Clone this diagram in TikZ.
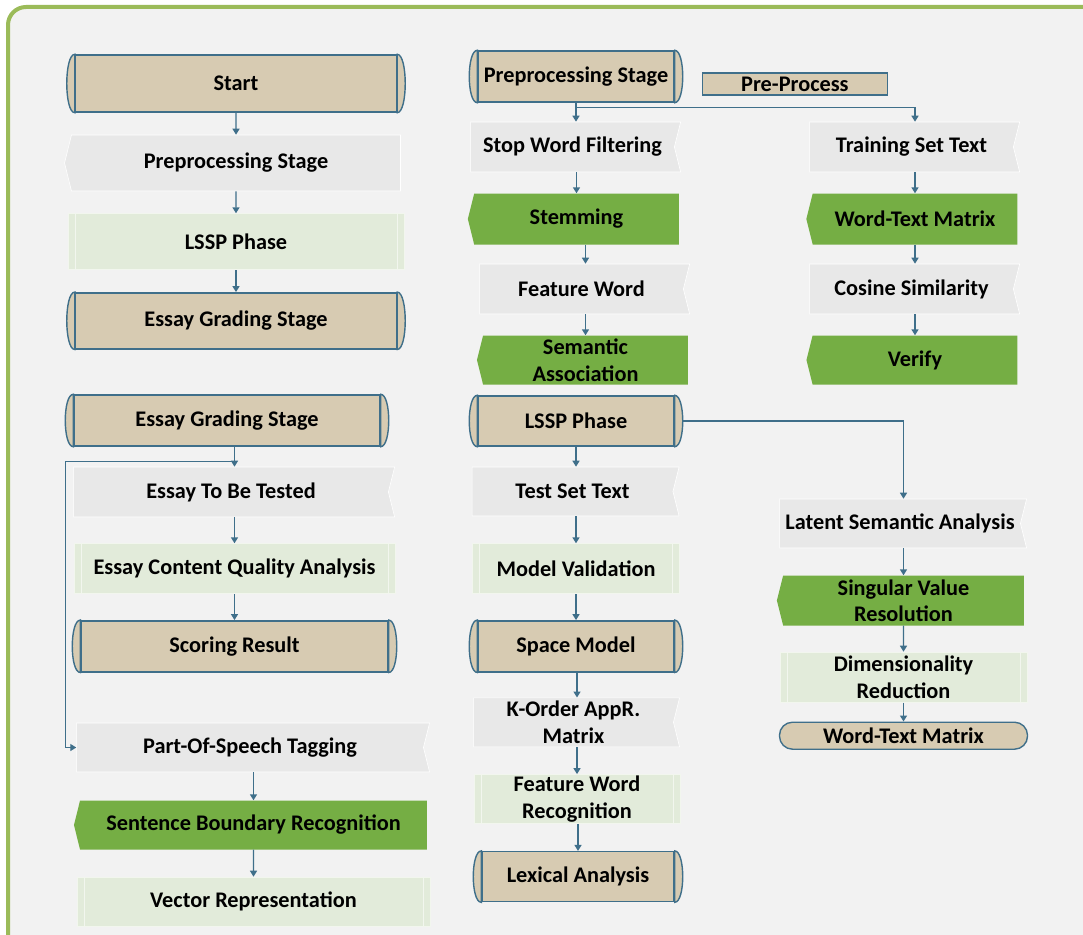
\documentclass[tikz,border=0pt]{standalone}
\usepackage{fontspec}
\setmainfont{Carlito}
\usetikzlibrary{arrows.meta}
\usetikzlibrary{positioning}
\usetikzlibrary{shapes.symbols}
\definecolor{framecol}{RGB}{155,187,89}
\definecolor{bgcol}{RGB}{242,242,242}
\definecolor{linecol}{RGB}{63,111,138}
\definecolor{tancol}{RGB}{215,203,178}
\definecolor{graycol}{RGB}{232,232,232}
\definecolor{greencol}{RGB}{117,174,68}
\definecolor{lightcol}{RGB}{226,235,218}

\begin{document}
\begin{tikzpicture}[
		x=1pt, y=-1pt,
		node distance=22pt,
		every node/.style={font=\bfseries\fontsize{22.3}{26.5}\selectfont, inner sep=0pt, align=center},
		arr/.style={draw=linecol, line width=1.4pt, -{Triangle[length=6pt,width=7pt]}},
		stage/.style={rectangle, draw=linecol, fill=tancol, line width=1.4pt,
			append after command={\pgfextra{
				\filldraw[fill=tancol, draw=linecol, line width=1.4pt] (\tikzlastnode.north west) .. controls +(-10.7pt,0) and +(-10.7pt,0) .. (\tikzlastnode.south west) -- cycle;
				\filldraw[fill=tancol, draw=linecol, line width=1.4pt] (\tikzlastnode.north east) .. controls +(10.7pt,0) and +(10.7pt,0) .. (\tikzlastnode.south east) -- cycle;
			}}},
		plainbox/.style={rectangle, draw=linecol, fill=tancol, line width=1.4pt},
		terminal/.style={rectangle, rounded corners=13pt, draw=linecol, fill=tancol, line width=1.4pt},
		graybox/.style={signal, signal from=east, signal to=nowhere, signal pointer angle=152, fill=graycol, draw=white, line width=0.6pt, xshift=-3.5pt},
		grayflag/.style={signal, signal to=west, signal pointer angle=152, fill=graycol, draw=white, line width=0.6pt},
		greenflag/.style={signal, signal to=west, signal pointer angle=152, fill=greencol},
		lightbox/.style={rectangle, fill=lightcol, draw=white!55!lightcol, line width=0.8pt,
			path picture={
				\draw[white!55!lightcol, line width=1pt] ([xshift=7pt]path picture bounding box.north west) -- ([xshift=7pt]path picture bounding box.south west)
					([xshift=-7pt]path picture bounding box.north east) -- ([xshift=-7pt]path picture bounding box.south east);
			}},
	]
		\useasboundingbox (0,0) rectangle (1083,934);
		\clip (0,0) rectangle (1083,934);
		\fill[white] (0,0) rectangle (1083,934);
		\filldraw[fill=bgcol, draw=framecol, line width=4pt, rounded corners=18pt] (8,7) rectangle (1120,970);

		\begin{scope}
			\node (start) [stage, minimum width=321pt, minimum height=57pt] at (236,83.5) {Start};
			\node (prep) [grayflag, minimum width=336pt, minimum height=56pt, below=22pt of start] {Preprocessing Stage};
			\node (lssp) [lightbox, minimum width=336pt, minimum height=56pt, below=22pt of prep] {LSSP Phase};
			\node (grading) [stage, minimum width=321pt, minimum height=56pt, below=22pt of lssp] {Essay Grading Stage};

			\draw[arr] (start) -- (prep);
			\draw[arr] (prep) -- (lssp);
			\draw[arr] (lssp) -- (grading);
		\end{scope}

		\begin{scope}
			\node (grading2) [stage, minimum width=306pt, minimum height=51pt] at (227,420.5) {Essay Grading Stage};
			\node (tested) [graybox, minimum width=321pt, minimum height=50pt, below=20pt of grading2, xshift=7.5pt] {Essay To Be Tested};
			\node (quality) [lightbox, minimum width=321pt, minimum height=50pt, below=26pt of tested, xshift=3.5pt] {Essay Content Quality Analysis};
			\node (scoring) [stage, minimum width=307pt, minimum height=51pt, below=26pt of quality] {Scoring Result};
			\node (pos) [graybox, minimum width=353pt, minimum height=49pt] at (253.5,747.5) {Part-Of-Speech Tagging};
			\node (boundary) [greenflag, minimum width=353pt, minimum height=49pt, below=28pt of pos, xshift=3.5pt] {Sentence Boundary Recognition};
			\node (vector) [lightbox, minimum width=353pt, minimum height=49pt, below=27pt of boundary] {Vector Representation};

			\coordinate (fork1) at ([yshift=-14.5pt]grading2.south -| quality.north);
			\coordinate (bus) at ([xshift=-8pt]grading2.west |- fork1);

			\draw[arr] (grading2.south -| quality.north) -- (quality.north |- tested.north);
			\draw[arr] (fork1) -- (bus) |- (pos.west);
			\draw[arr] (quality.north |- tested.south) -- (quality.north);
			\draw[arr] (quality.south -| scoring.north) -- (scoring.north);
			\draw[arr] (boundary.north |- pos.south) -- (boundary.north);
			\draw[arr] (boundary) -- (vector);
		\end{scope}

		\begin{scope}
			\node (prep2) [stage, minimum width=196pt, minimum height=51pt] at (576,76.5) {Preprocessing Stage};
			\node (preproc) [plainbox, minimum width=185pt, minimum height=22pt, right=27pt of prep2, yshift=-7.5pt] {Pre-Process};
			\node (stopword) [graybox, minimum width=210pt, minimum height=50pt, below=19pt of prep2] {Stop Word Filtering};
			\node (stemming) [greenflag, minimum width=211pt, minimum height=51pt, below=21pt of stopword, xshift=4pt] {Stemming};
			\node (feature) [graybox, minimum width=210pt, minimum height=50pt, below=19pt of stemming, xshift=8.5pt] {Feature Word};
			\node (semantic) [greenflag, minimum width=211pt, minimum height=49pt, below=21pt of feature, xshift=4pt] {Semantic\\Association};

			\node (training) [graybox, minimum width=210pt, minimum height=50pt] at (915,147) {Training Set Text};
			\node (wtm) [greenflag, minimum width=211pt, minimum height=51pt, below=21pt of training, xshift=3.5pt] {Word-Text Matrix};
			\node (cosine) [graybox, minimum width=210pt, minimum height=50pt, below=19pt of wtm] {Cosine Similarity};
			\node (verify) [greenflag, minimum width=211pt, minimum height=49pt, below=21pt of cosine, xshift=3.5pt] {Verify};

			\coordinate (fork2) at ([yshift=-4.5pt]prep2.south);

			\draw[arr] (prep2.south) -- (prep2.south |- stopword.north);
			\draw[arr] (fork2) -| (wtm.north |- training.north);
			\draw[arr] (stemming.north |- stopword.south) -- (stemming.north);
			\draw[arr] (semantic.north |- stemming.south) -- (semantic.north |- feature.north);
			\draw[arr] (semantic.north |- feature.south) -- (semantic.north);
			\draw[arr] (wtm.north |- training.south) -- (wtm.north);
			\draw[arr] (wtm.south) -- (wtm.south |- cosine.north);
			\draw[arr] (verify.north |- cosine.south) -- (verify.north);
		\end{scope}

		\begin{scope}
			\node (lssp2) [stage, minimum width=196pt, minimum height=50pt] at (576,421) {LSSP Phase};
			\node (testset) [graybox, minimum width=207pt, minimum height=49pt, below=20pt of lssp2] {Test Set Text};
			\node (validation) [lightbox, minimum width=207pt, minimum height=50pt, below=27pt of testset, xshift=3.5pt] {Model Validation};
			\node (space) [stage, minimum width=196pt, minimum height=51pt, below=26pt of validation] {Space Model};
			\node (korder) [graybox, minimum width=206pt, minimum height=49pt, below=25pt of space, xshift=1pt] {K-Order AppR.\\Matrix};
			\node (fwrec) [lightbox, minimum width=206pt, minimum height=49pt, below=27pt of korder, xshift=3.5pt] {Feature Word\\Recognition};
			\node (lexical) [stage, minimum width=192pt, minimum height=50pt, below=27pt of fwrec, xshift=1pt] {Lexical Analysis};

			\node (lsa) [graybox, minimum width=247pt, minimum height=49pt] at (903.5,523.5) {Latent Semantic Analysis};
			\node (svr) [greenflag, minimum width=247pt, minimum height=50pt, below=27pt of lsa, xshift=3.5pt] {Singular Value\\Resolution};
			\node (dim) [lightbox, minimum width=247pt, minimum height=50pt, below=26pt of svr] {Dimensionality\\Reduction};
			\node (wtm2) [terminal, minimum width=248pt, minimum height=27pt, below=19pt of dim] {Word-Text Matrix};

			\draw[arr] (lssp2.south) -- (lssp2.south |- testset.north);
			\draw[arr] (validation.north |- testset.south) -- (validation.north);
			\draw[arr] (validation) -- (space);
			\draw[arr] (fwrec.north |- space.south) -- (fwrec.north |- korder.north);
			\draw[arr] (fwrec.north |- korder.south) -- (fwrec.north);
			\draw[arr] (fwrec.south -| lexical.north) -- (lexical.north);
			\draw[arr] ([xshift=8pt]lssp2.east) -| (svr.north |- lsa.north);
			\draw[arr] (svr.north |- lsa.south) -- (svr.north);
			\draw[arr] (svr) -- (dim);
			\draw[arr] (dim) -- (wtm2);
		\end{scope}
	\end{tikzpicture}
\end{document}
